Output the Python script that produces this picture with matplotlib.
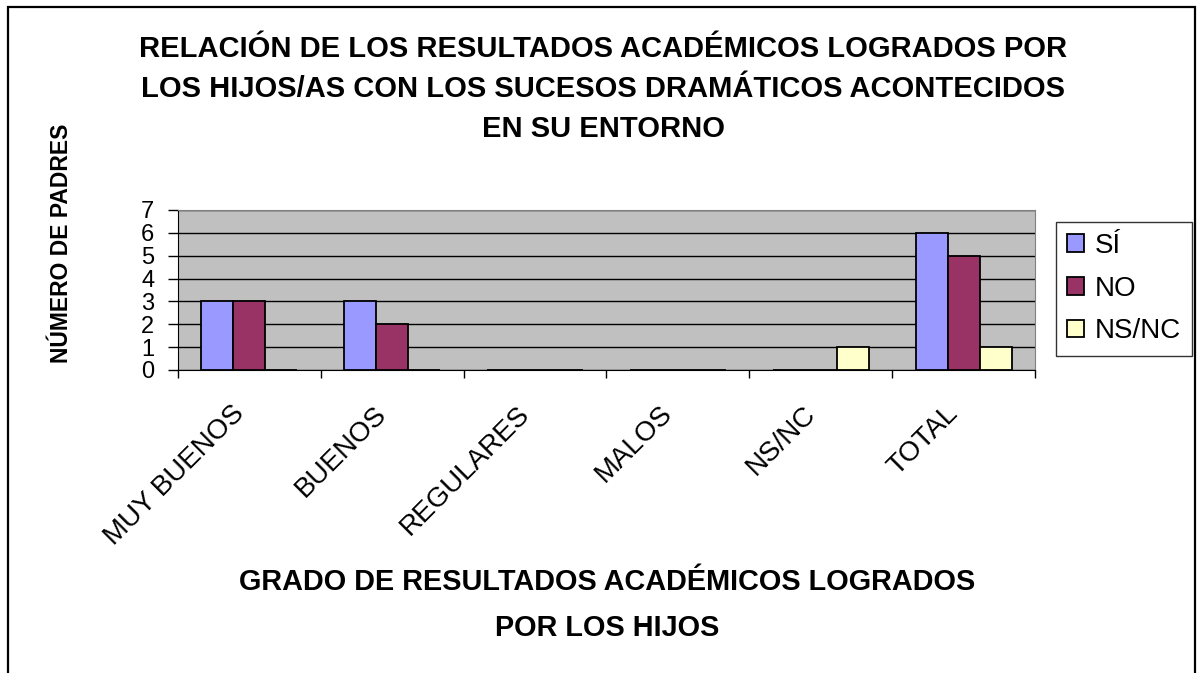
import numpy as np
import matplotlib
matplotlib.use("Agg")
import matplotlib.pyplot as plt
from matplotlib.patches import Rectangle

plt.rcParams['font.family'] = ['Liberation Sans', 'DejaVu Sans']

# datos
categorias = ["MUY BUENOS", "BUENOS", "REGULARES", "MALOS", "NS/NC", "TOTAL"]
si = [3, 3, 0, 0, 0, 6]
no = [3, 2, 0, 0, 0, 5]
ns_nc = [0, 0, 0, 0, 1, 1]
series = ["SÍ", "NO", "NS/NC"]
colores = ["#9999FF", "#993366", "#FFFFCC"]

W, H = 1202, 673
fig = plt.figure(figsize=(W / 100, H / 100), dpi=100)

# marco exterior
fig.patches.append(Rectangle((8 / W, -0.05), (1195 - 8) / W, 1 - 7 / H + 0.05,
                             transform=fig.transFigure, fill=False,
                             edgecolor="black", linewidth=1.6))

ax = fig.add_axes([178 / W, (H - 370) / H, (1035 - 178) / W, 160 / H])
ax.set_facecolor("#C0C0C0")

x = np.arange(len(categorias))
ancho = 0.224
for i, (vals, nombre, col) in enumerate(zip([si, no, ns_nc], series, colores)):
    ax.bar(x + (i - 1) * ancho, vals, ancho, color=col, edgecolor="black",
           linewidth=1.3, label=nombre, zorder=3)

ax.set_xlim(-0.5, len(categorias) - 0.5)
ax.set_ylim(0, 7)
ax.set_yticks(range(0, 8))
ax.yaxis.grid(True, color="black", linewidth=1.0, zorder=1)
ax.set_axisbelow(True)

ax.set_xticks(np.arange(-0.5, len(categorias)), minor=False)
ax.set_xticklabels([])
ax.set_xticks(x, minor=True)
ax.set_xticklabels(categorias, minor=True, rotation=45, ha="right", va="top",
                   fontsize=20)
ax.tick_params(axis="x", which="major", length=6, width=1, direction="out")
ax.tick_params(axis="x", which="minor", length=0, pad=22)
ax.tick_params(axis="y", length=7, width=1, direction="out", labelsize=17, pad=10)

for s in ["top", "right"]:
    ax.spines[s].set_color("#808080")
ax.spines["left"].set_color("black")
ax.spines["bottom"].set_color("black")

fig.text(603 / W, 1 - 89 / H,
         "RELACIÓN DE LOS RESULTADOS ACADÉMICOS LOGRADOS POR\n"
         "LOS HIJOS/AS CON LOS SUCESOS DRAMÁTICOS ACONTECIDOS\n"
         "EN SU ENTORNO",
         ha="center", va="center", fontsize=21, fontweight="bold", linespacing=1.55)

fig.text(607 / W, 1 - 605 / H,
         "GRADO DE RESULTADOS ACADÉMICOS LOGRADOS\nPOR LOS HIJOS",
         ha="center", va="center", fontsize=20.8, fontweight="bold", linespacing=1.78)

fig.text(62 / W, 1 - 243 / H, "NÚMERO DE PADRES", rotation=90,
         ha="center", va="center", fontsize=16.5, fontweight="bold")

fig.legend(loc="upper left", bbox_to_anchor=(1056 / W, 1 - 222 / H),
           fontsize=20, frameon=True, fancybox=False, edgecolor="black",
           handlelength=0.6, handleheight=0.6, labelspacing=0.6,
           handletextpad=0.4, borderpad=0.4, borderaxespad=0)

fig.savefig("out.png", dpi=100)
